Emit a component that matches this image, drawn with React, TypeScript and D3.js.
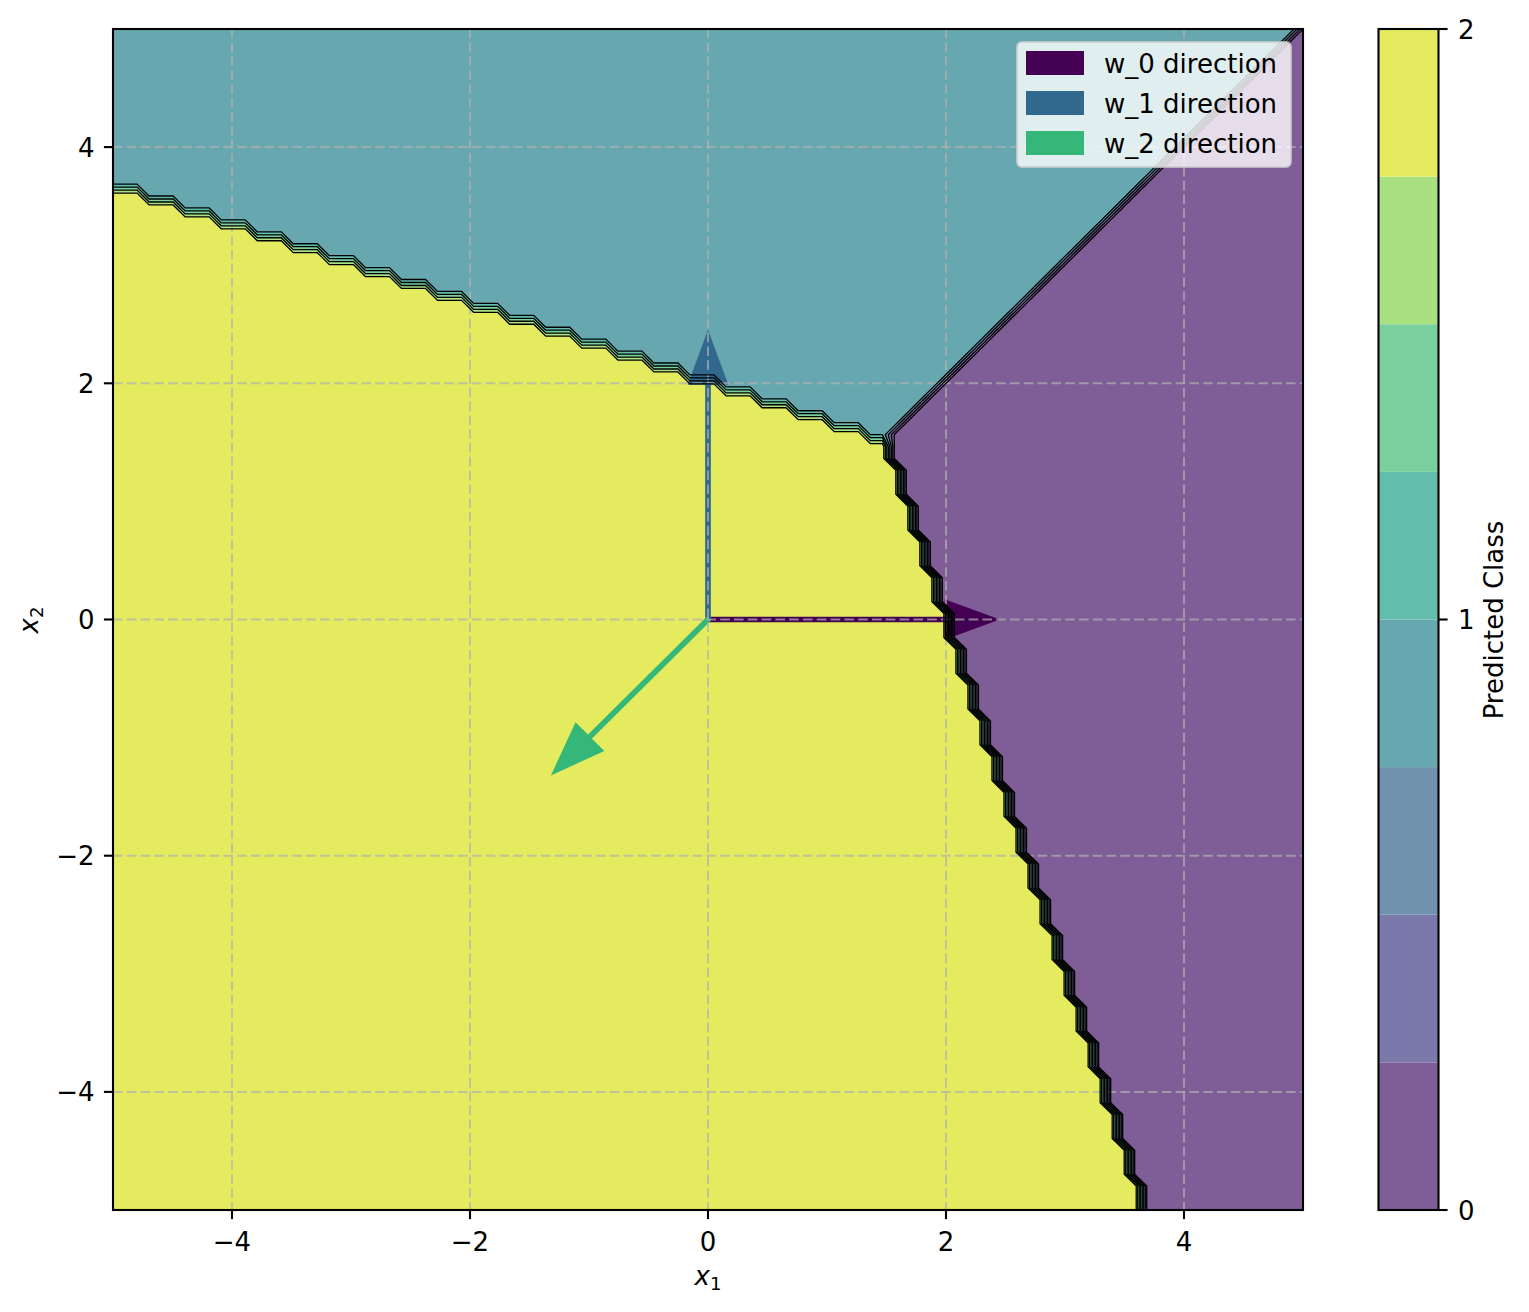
import React from 'react';
import * as d3 from 'd3';

// ---- data ----
const classNames = ['w_0 direction', 'w_1 direction', 'w_2 direction'];
const weightX = [2, 0, -1];
const weightY = [0, 2, -1];
const biases = [0, 0, 6];
const arrowColors = ['#440154', '#31688e', '#35b779'];
const contourLevels = [0, 0.25, 0.5, 0.75, 1, 1.25, 1.5, 1.75, 2];
const xTicks = [-4, -2, 0, 2, 4];
const yTicks = [-4, -2, 0, 2, 4];
const cbarTicks = [0, 1, 2];
const gridMin = -5;
const gridMax = 5;
const gridN = 100;
const arrowShaftWidth = 0.025;
const arrowHeadWidth = 0.31;
const arrowHeadLength = 0.42;

const FONT = 'DejaVu Sans, sans-serif';
const FS = 26;

function blend(col: string, a: number) {
  const c = d3.rgb(col);
  return d3.rgb(c.r * a + 255 * (1 - a), c.g * a + 255 * (1 - a), c.b * a + 255 * (1 - a)).formatHex();
}

function fmt(v: number) {
  return v < 0 ? '\u2212' + Math.abs(v) : String(v);
}

export default function App() {
  const W = 1529, H = 1312;
  const L = 113, R = 1303, T = 29, B = 1210;
  const xScale = d3.scaleLinear().domain([gridMin, gridMax]).range([L, R]);
  const yScale = d3.scaleLinear().domain([gridMin, gridMax]).range([B, T]);

  const h = (gridMax - gridMin) / (gridN - 1);
  const coords = d3.range(gridN).map((i) => (i === gridN - 1 ? gridMax : gridMin + i * h));
  const values: number[] = new Array(gridN * gridN);
  for (let j = 0; j < gridN; j++) {
    for (let i = 0; i < gridN; i++) {
      const x = coords[i], y = coords[j];
      let best = 0, bestS = -Infinity;
      for (let k = 0; k < weightX.length; k++) {
        const s = weightX[k] * x + weightY[k] * y + biases[k];
        if (s > bestS) { bestS = s; best = k; }
      }
      values[j * gridN + i] = best;
    }
  }

  const contourGen = d3.contours().size([gridN, gridN]);
  const proj = d3.geoTransform({
    point: function (this: any, x: number, y: number) {
      this.stream.point(xScale(gridMin + (x - 0.5) * h), yScale(gridMin + (y - 0.5) * h));
    },
  });
  const path = d3.geoPath(proj);
  const nBands = contourLevels.length - 1;
  const vmin = contourLevels[0], vmax = contourLevels[nBands];
  const bandColors = d3.range(nBands).map((k) => {
    const mid = (contourLevels[k] + contourLevels[k + 1]) / 2;
    return blend(d3.interpolateViridis((mid - vmin) / (vmax - vmin)), 0.7);
  });
  const eps = 1e-9;
  const fills = d3.range(1, nBands).map((k) => ({
    color: bandColors[k],
    d: path(contourGen.contour(values, contourLevels[k] + eps) as any) || '',
  }));
  const lines = contourLevels.slice(0, nBands).map((lv) => path(contourGen.contour(values, lv + eps) as any) || '');

  // arrows (FancyArrow-like polygons)
  const arrows = weightX.map((wx, k) => {
    const wy = weightY[k];
    const len = Math.hypot(wx, wy);
    const ux = wx / len, uy = wy / len;
    const px = -uy, py = ux;
    const total = len + arrowHeadLength;
    const local: [number, number][] = [
      [0, arrowShaftWidth / 2],
      [total - arrowHeadLength, arrowShaftWidth / 2],
      [total - arrowHeadLength, arrowHeadWidth / 2],
      [total, 0],
      [total - arrowHeadLength, -arrowHeadWidth / 2],
      [total - arrowHeadLength, -arrowShaftWidth / 2],
      [0, -arrowShaftWidth / 2],
    ];
    const pts = local.map(([a, b]) => [xScale(a * ux + b * px), yScale(a * uy + b * py)] as [number, number]);
    return { color: arrowColors[k], d: d3.line()(pts) + 'Z' };
  });

  // colorbar
  const cbL = 1378.5, cbW = 60;
  const cbScale = d3.scaleLinear().domain([vmin, vmax]).range([B, T]);

  // legend
  const legX = 1017, legY = 42, legW = 274, legH = 125;
  const rowY = [63, 103, 143];

  return (
    <svg width={W} height={H} style={{ position: 'absolute', left: 0, top: 0, background: '#fff' }} fontFamily={FONT}>
      <defs>
        <clipPath id="plotclip">
          <rect x={L} y={T} width={R - L} height={B - T} />
        </clipPath>
      </defs>
      <rect x={0} y={0} width={W} height={H} fill="#fff" />
      <g clipPath="url(#plotclip)">
        <rect x={L} y={T} width={R - L} height={B - T} fill={bandColors[0]} />
        {fills.map((f, i) => (
          <path key={'f' + i} d={f.d} fill={f.color} stroke="none" />
        ))}
        {arrows.map((a, i) => (
          <path key={'a' + i} d={a.d} fill={a.color} stroke={a.color} strokeWidth={2.7} strokeLinejoin="miter" />
        ))}
        {xTicks.map((t) => (
          <line key={'gx' + t} x1={xScale(t)} x2={xScale(t)} y1={T} y2={B} stroke="#b0b0b0" strokeOpacity={0.7} strokeWidth={2} strokeDasharray="9.6,4.2" />
        ))}
        {yTicks.map((t) => (
          <line key={'gy' + t} x1={L} x2={R} y1={yScale(t)} y2={yScale(t)} stroke="#b0b0b0" strokeOpacity={0.7} strokeWidth={2} strokeDasharray="9.6,4.2" />
        ))}
        {lines.map((d, i) => (
          <path key={'l' + i} d={d} fill="none" stroke="#000" strokeWidth={1.3} />
        ))}
      </g>
      {/* spines */}
      <rect x={L} y={T} width={R - L} height={B - T} fill="none" stroke="#000" strokeWidth={2.1} />
      {/* x ticks */}
      {xTicks.map((t) => (
        <g key={'xt' + t}>
          <line x1={xScale(t)} x2={xScale(t)} y1={B} y2={B + 9.1} stroke="#000" strokeWidth={2.1} />
          <text x={xScale(t)} y={1251} textAnchor="middle" fontSize={FS} fill="#000">{fmt(t)}</text>
        </g>
      ))}
      {yTicks.map((t) => (
        <g key={'yt' + t}>
          <line x1={L - 9.1} x2={L} y1={yScale(t)} y2={yScale(t)} stroke="#000" strokeWidth={2.1} />
          <text x={L - 18.5} y={yScale(t) + 9.5} textAnchor="end" fontSize={FS} fill="#000">{fmt(t)}</text>
        </g>
      ))}
      {/* axis labels */}
      <text x={708} y={1285} textAnchor="middle" fontSize={FS} fill="#000">
        <tspan fontStyle="italic">x</tspan>
        <tspan fontSize={FS * 0.7} dy={5}>1</tspan>
      </text>
      <text transform={`translate(38,620) rotate(-90)`} textAnchor="middle" fontSize={FS} fill="#000">
        <tspan fontStyle="italic">x</tspan>
        <tspan fontSize={FS * 0.7} dy={5}>2</tspan>
      </text>
      {/* legend */}
      <g>
        <rect x={legX} y={legY} width={legW} height={legH} rx={5} ry={5} fill="#fff" fillOpacity={0.8} stroke="#cccccc" strokeOpacity={0.8} strokeWidth={2} />
        {classNames.map((name, i) => (
          <g key={'lg' + i}>
            <rect x={1026} y={rowY[i] - 12} width={58} height={24} fill={arrowColors[i]} />
            <text x={1104} y={rowY[i] + 9.5} fontSize={FS} fill="#000">{name}</text>
          </g>
        ))}
      </g>
      {/* colorbar */}
      <g>
        {bandColors.map((c, k) => (
          <rect key={'cb' + k} x={cbL} y={cbScale(contourLevels[k + 1])} width={cbW} height={cbScale(contourLevels[k]) - cbScale(contourLevels[k + 1])} fill={c} />
        ))}
        <rect x={cbL} y={T} width={cbW} height={B - T} fill="none" stroke="#000" strokeWidth={2.1} />
        {cbarTicks.map((t) => (
          <g key={'ct' + t}>
            <line x1={cbL + cbW} x2={cbL + cbW + 9.1} y1={cbScale(t)} y2={cbScale(t)} stroke="#000" strokeWidth={2.1} />
            <text x={cbL + cbW + 19.5} y={cbScale(t) + 9.5} fontSize={FS} fill="#000">{fmt(t)}</text>
          </g>
        ))}
        <text transform={`translate(1503,620) rotate(-90)`} textAnchor="middle" fontSize={FS} fill="#000">Predicted Class</text>
      </g>
    </svg>
  );
}
